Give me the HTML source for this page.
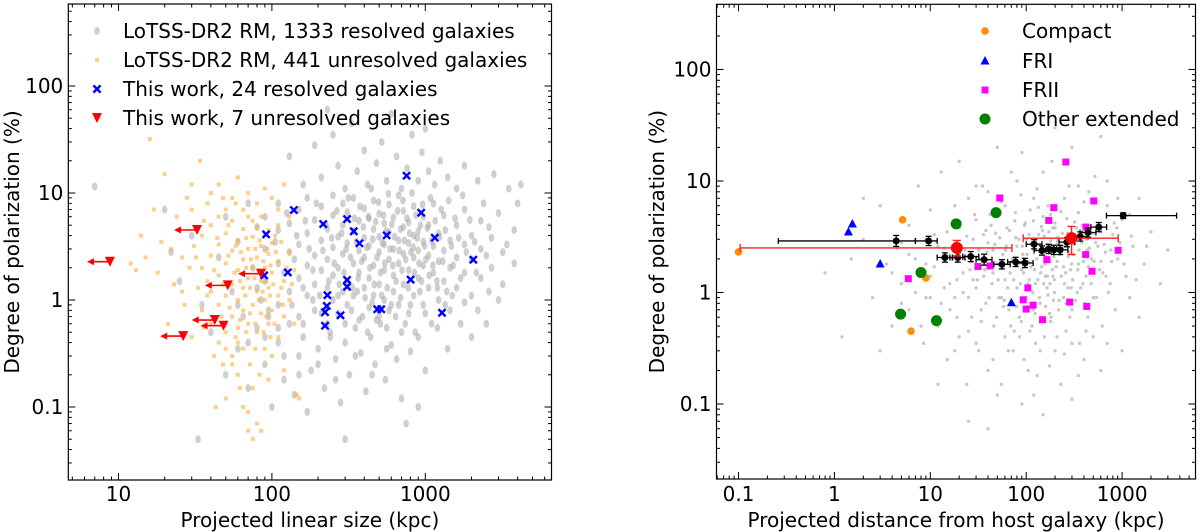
<!DOCTYPE html>
<html><head><meta charset="utf-8">
<style>
html,body{margin:0;padding:0;background:#fff;}
svg{display:block;font-family:"DejaVu Sans","Liberation Sans",sans-serif;}
</style></head>
<body>
<svg id="fig" width="1200" height="532" viewBox="0 0 1200 532" xmlns="http://www.w3.org/2000/svg">
  <g id="left"></g>
  <g id="right"></g>
</svg>
<script>
// ---------- LEFT PANEL DATA ----------
const lotssResolved = [[130,22],[160,12],[190,28],[210,14],[250,35],[270,18],[300,11],[330,45],[360,16],[400,25],[420,12],[480,19],[520,30],[560,13],[600,55],[650,22],[700,11],[760,17],[820,35],[900,13],[950,24],[1050,16],[1150,12],[1250,20],[1400,14],[1600,11],[1800,18],[2200,13],[2800,15],[3500,11],[4200,12],[7,11.5],[230,60],[1000,40],
[90,1.5],[90,3],[90,6],[110,0.9],[110,2.2],[110,4.5],[110,8],[130,1.2],[130,2.8],[130,5.2],[150,0.7],[150,1.6],[150,3.3],[150,7],[170,1.1],[170,2.1],[170,4.2],[170,9],[190,0.8],[190,1.4],[190,2.6],[190,5.6],[210,1.9],[210,3.6],[210,7.5],[230,0.6],[230,1.3],[230,2.4],[230,4.6],[250,1.0],[250,1.7],[250,3.1],[250,6.2],[250,9.5],[270,0.75],[270,2.0],[270,3.9],[290,1.2],[290,2.7],[290,5.0],[290,8],[310,0.9],[310,1.5],[310,3.4],[310,6.6],[340,1.1],[340,2.2],[340,4.4],[340,9],[370,0.65],[370,1.8],[370,2.9],[370,5.5],[400,1.3],[400,2.5],[400,3.8],[400,7.2],[430,0.85],[430,1.6],[430,3.2],[430,5.8],[460,1.1],[460,2.1],[460,4.6],[460,8.5],[500,0.7],[500,1.4],[500,2.8],[500,3.9],[500,6.4],[540,1.0],[540,1.9],[540,3.3],[540,5.2],[580,0.8],[580,2.4],[580,4.3],[580,7.8],[620,1.2],[620,1.7],[620,3.0],[620,5.9],[670,0.9],[670,2.2],[670,3.6],[670,9.5],[720,1.4],[720,2.7],[720,4.8],[720,6.8],[780,0.75],[780,1.9],[780,3.4],[780,5.3],[840,1.1],[840,2.5],[840,4.0],[840,7.5],[900,1.6],[900,2.9],[900,4.4],[970,0.9],[970,2.1],[970,3.5],[970,6],[1050,1.3],[1050,2.6],[1050,5],[1130,1.8],[1130,3.2],[1130,8],[1220,1.0],[1220,2.3],[1220,4.2],[1320,1.5],[1320,2.9],[1320,6.2],[1450,0.8],[1450,2],[1450,3.6],[1600,1.3],[1600,2.5],[1600,5],[1800,1.8],[1800,3.3],[1800,7],[2000,1.1],[2000,2.4],[2000,4],[2300,1.6],[2300,3],[2300,5.5],[2700,2],[2700,3.8],[3200,1.4],[3200,2.8],[3800,2.2],[3800,4.5],
[40,0.5],[50,0.2],[60,0.35],[70,0.15],[80,0.55],[90,0.25],[100,0.1],[110,0.4],[120,0.18],[130,0.6],[140,0.13],[150,0.3],[160,0.45],[170,0.09],[180,0.22],[200,0.35],[220,0.15],[240,0.5],[260,0.28],[280,0.11],[300,0.4],[320,0.2],[350,0.55],[380,0.32],[410,0.14],[440,0.45],[470,0.25],[510,0.6],[550,0.18],[600,0.38],[650,0.28],[700,0.5],[750,0.07],[800,0.33],[900,0.45],[1000,0.22],[1200,0.55],[1400,0.35],[1700,0.6],[2000,0.45],[2500,0.6],[33,0.05],[300,0.05],[700,0.12],[900,0.1],
[25,1.5],[30,4],[35,0.9],[45,2.5],[50,6],[55,1.2],[60,3.5],[65,0.7],[70,8],[75,2],[80,4.8],[85,1],[20,7],[22,2.8],
[95,0.8],[105,3.5],[120,1.8],[125,6.5],[140,2.4],[145,4],[160,1.3],[165,5.5],[175,3],[185,1.9],[195,8],[205,1.1],[215,2.9],[225,5],[235,1.5],[245,3.8],[255,2.2],[265,6.8],[275,1.4],[285,4.2],[295,1.8],[305,3],[315,9],[325,2.5],[335,1.3],[345,5.8],[355,3.5],[365,1.6],[375,7.5],[385,2.3],[395,4.8],[405,1.05],[415,3.1],[425,6],[435,2],[445,11],[455,3.7],[465,1.4],[475,5.4],[485,2.5],[495,8.2],[510,1.8],[525,3.4],[535,6.2],[545,2.2],[555,4.4],[565,1.3],[575,9.8],[590,3],[605,5.1],[615,2.1],[630,3.9],[645,1.5],[660,6.8],[675,2.9],[690,4.6],[705,1.9],[715,8.5],[730,3.6],[745,2.4],[760,5.8],[775,1.3],[790,4.2],[805,2.8],[820,10],[835,3.1],[850,1.8],[870,6.2],[885,3.8],[910,2.2],[930,5],[945,1.5],[960,7.8],[990,3.2],[1010,2.4],[1030,4.7],[1060,1.7],[1080,9],[1100,3.6],[1120,2.1],[1160,5.5],[1190,1.5],[1240,3.9],[1270,7],[1300,2.3],[1350,4.5],[1380,1.2],[1420,8.5],[1480,3.2],[1520,2.1],[1560,5.8],[1650,3.8],[1700,1.6],[1750,9.5],[1850,2.8],[1950,5.6],[2100,3.5],[2150,1.8],[2400,8],[2500,2.6],[2600,4.8],[3000,6.5],[3400,3.3],[4000,8],
[110,0.55],[135,0.9],[160,0.6],[185,1.0],[210,0.75],[240,0.45],[270,1.1],[300,0.6],[330,0.8],[360,1.2],[390,0.7],[420,0.5],[450,0.95],[480,0.65],[520,1.1],[560,0.55],[600,0.9],[640,0.7],[690,1.05],[740,0.6],[800,0.9],[860,0.5],[920,1.2],[1000,0.75],[1100,0.6],[1200,1.3],[1350,0.9],[1500,1.1],[1800,0.95],[2200,0.8],[2600,1.2],[3000,1],
[200,0.25],[260,0.18],[350,0.3],[450,0.2],[560,0.35],[150,0.2],[120,0.3],[90,0.45],[70,0.4],[80,1.3],[60,0.9],[95,0.7]];

const lotssUnresolved = [[35,0.8],[35,2],[35,4],[40,0.6],[40,1.2],[40,2.6],[40,5],[45,0.9],[45,1.7],[45,3.3],[50,0.5],[50,1.1],[50,2.2],[50,4.2],[50,7],[55,0.7],[55,1.4],[55,2.9],[55,5.5],[60,0.55],[60,1],[60,1.9],[60,3.6],[65,0.8],[65,1.3],[65,2.4],[65,4.6],[70,0.6],[70,1.6],[70,3],[70,6],[75,0.9],[75,2],[75,3.9],[80,0.5],[80,1.2],[80,2.5],[80,4.8],[85,0.75],[85,1.5],[85,3.2],[90,1],[90,2],[90,4],[95,0.6],[95,1.3],[95,2.7],[100,0.8],[100,1.8],[100,3.4],[110,1.1],[110,2.3],[110,5],[120,0.7],[120,1.5],[130,2.8],[130,1],[140,0.6],[140,1.9],[150,0.12],[145,0.13],
[12,2.2],[14,4],[16,32],[17,7],[18,1.8],[20,15],[22,3],[24,6],[26,1.2],[28,9],[30,0.45],[30,12],[32,2.5],[34,20],[36,5.5],[38,1.5],[27,0.9],[25,4.5],[21,0.6],
[43,0.1],[50,0.12],[55,0.3],[60,0.2],[65,0.1],[70,0.09],[70,0.06],[75,0.05],[80,0.07],[85,0.06],[55,0.25],[60,0.4],[45,0.4],[48,0.25],[90,0.35],[100,0.3],[110,0.45],[75,0.15],[65,0.35],[120,0.22],
[40,10],[45,12],[55,9],[60,14],[70,10],[80,8],[90,11],[100,9],[110,7],[120,12],[130,6],
[38,1.1],[42,1.9],[44,3.8],[47,0.7],[48,1.4],[52,2.6],[53,0.85],[57,1.8],[58,3.2],[62,0.65],[62,1.5],[63,2.8],[67,1.1],[68,2],[68,3.8],[72,0.75],[72,1.3],[73,2.4],[77,1.6],[78,0.6],[78,3],[82,1],[82,1.9],[83,3.6],[87,1.2],[88,2.3],[92,0.7],[92,1.5],[93,3],[97,1.1],[98,2.1],[102,1.4],[104,0.6],[106,2.8],[115,1.3],[118,0.9],[125,2],[135,1.4],[45,6],[52,5],[65,7],[75,5.5],[85,6],[95,4.5],[105,4],[115,3.5],[58,0.45],[68,0.5],[78,0.35],[88,0.5],[98,0.45],[50,0.35],[72,0.25],[62,0.15],[83,0.2],[95,0.18],[42,0.3],[36,0.55],[33,1.3],[31,3.2],[29,2],[26,2.5],[23,1.4],[19,3.5],[15,2.5],[13,1.9],[48,9],[58,8],[38,8],[30,7]];

const resolvedSize = [91.7,139,216,309,342,372,560,755,940,1153,2056,127,89,309,309,802,230,228,222,280,486,516,1285,222];
const resolvedPol  = [4.11,6.93,5.13,5.71,4.39,3.39,4.02,14.5,6.54,3.82,2.38,1.81,1.70,1.54,1.33,1.55,1.11,0.88,0.77,0.72,0.82,0.82,0.76,0.575];
const unresolvedSize = [8.8,32.5,85,51.6,42.4,48.4,26.4];
const unresolvedPol  = [2.28,4.51,1.76,1.37,0.65,0.575,0.46];

const leftXTicks = [10,100,1000];
const leftXTickLabels = ["10","100","1000"];
const leftYTicks = [0.1,1,10,100];
const leftYTickLabels = ["0.1","1","10","100"];

// ---------- RIGHT PANEL DATA ----------
const backgroundDist = [[0.8,1.5],[1.2,0.4],[2,3],[2.5,0.9],[3,6],[3.5,1.8],[4,0.5],[4.5,2.5],[5,1.2],[6,4],[6,0.7],[7,2],[7.5,9],[8,1.4],[8.5,0.35],[9,3],[10,0.9],[10,5.5],[11,1.7],[12,0.5],[12,2.6],[13,12],[14,1.1],[15,3.5],[15,0.25],[16,0.7],[17,2],[18,6],[19,1.3],[20,0.4],[20,3.8],[22,1],[23,2.4],[24,0.15],[25,7],[26,1.6],[27,0.6],[28,3],[30,1.1],[30,4.5],[32,0.3],[33,2],[35,9],[36,1.4],[38,0.8],[40,2.8],[40,0.2],[42,5],[44,1.2],[46,0.5],[48,3.4],[50,1.8],[50,0.12],[52,0.9],[55,6.5],[57,2.2],[60,0.4],[60,1.3],[63,3.8],[66,0.7],[70,1.9],[70,12],[73,0.3],[76,4.4],[80,1.1],[80,2.6],[85,0.6],[88,7.5],[90,1.6],[95,0.25],[100,3],[100,0.9],[105,1.9],[110,5.5],[115,0.5],[120,2.4],[125,1.2],[130,0.18],[130,8.5],[135,3.3],[140,0.8],[145,1.7],[150,4.8],[155,0.4],[160,2.1],[165,1.1],[170,6],[175,0.65],[180,2.9],[185,15],[190,1.4],[200,0.3],[200,3.8],[210,1.9],[220,0.85],[230,5.3],[240,2.5],[250,1.2],[260,0.45],[270,3.4],[280,9],[290,1.6],[300,0.7],[310,2.2],[320,4.3],[340,1],[360,0.35],[380,2.8],[400,6.5],[420,1.4],[440,0.6],[460,3.6],[480,2],[500,0.9],[520,11],[550,4],[580,1.6],[620,0.5],[650,2.7],[700,6],[750,1.2],[800,3.3],[850,0.7],[900,2],[1000,4.5],[1100,1.4],[1200,0.9],[1300,2.6],[1500,7],[1700,1.8],[2000,3.5],[2500,1.2],[3000,2.4],[40,0.06],[150,0.08],[90,0.1],[25,0.07],[300,0.11],[600,0.2],[12,0.15],[1000,0.3],[8,0.5],[1500,0.6],[3,0.3],[1.5,2],[2,7],[600,25],[200,30],[50,20],[20,15],
[18,0.9],[28,1.3],[34,0.55],[45,2.4],[58,0.75],[68,1.5],[78,3.1],[92,2.2],[108,1.3],[118,0.7],[138,2.7],[158,1.4],[178,1.9],[198,1],[215,3.1],[245,1.7],[275,2.1],[295,1.1],[330,3],[350,1.8],[390,1.2],[430,2.4],[470,1.5],[530,2.8],[600,1.9],[680,1.4],[760,2.4],[880,3.8],[38,3.6],[62,2.6],[98,4.2],[148,3.6],[208,2.7],[350,5.2],[600,3.5],[22,2],[14,2.5],[9,1.8],[5,2.8],[75,0.45],[125,0.35],[180,0.55],[260,0.8],[420,0.45],[55,0.9],[35,1.9],
[10,1.4],[11,3.3],[13,0.8],[14,2.1],[16,1.2],[17,4.2],[19,0.6],[21,2.5],[22,1.5],[24,3.2],[25,0.9],[27,1.9],[29,5],[31,1.3],[32,2.4],[34,0.7],[36,3.3],[37,1.6],[39,2.3],[41,0.9],[43,4],[45,1.5],[47,2.7],[49,0.6],[51,1.3],[53,3.1],[56,1.7],[59,0.85],[61,2.4],[64,1.1],[67,3.6],[69,0.5],[72,2],[74,1.3],[77,5.2],[79,0.75],[82,1.8],[84,3],[87,1.2],[89,0.55],[91,2.6],[94,1.5],[96,4],[99,0.7],[102,2.2],[104,1.2],[107,3.3],[109,0.45],[112,1.7],[114,2.8],[117,1],[119,4.4],[122,1.6],[124,0.65],[127,3],[129,2],[132,1.3],[134,5.8],[137,0.9],[139,2.3],[142,1.5],[144,3.9],[147,0.55],[149,2.5],[152,1.2],[154,3.2],[157,1.8],[159,0.75],[162,2.7],[164,4.5],[167,1.4],[169,0.95],[172,3.5],[174,2],[177,1.2],[179,5],[182,0.6],[184,2.5],[187,1.6],[189,3.8],[192,0.85],[194,2.1],[197,1.3],[199,4.2],[205,1.7],[212,2.9],[218,0.7],[225,2.2],[232,1.4],[238,3.4],[245,0.9],[252,2.6],[258,1.5],[265,4.6],[272,1.1],[278,2.3],[285,0.6],[292,3.1],[298,1.8],[305,1.3],[315,2.7],[325,0.85],[335,3.8],[345,1.6],[355,2.4],[370,1.1],[385,4],[395,1.9],[410,0.8],[425,3],[445,1.7],[455,2.5],[475,1.2],[490,3.4],[510,1.9],[540,0.9],[560,2.6],[590,3.6],[630,1.5],[670,2.3],[720,1],[780,1.9],[830,4.2],[950,2.8],[1050,1.8],[1250,3.2],[1400,1.3],[1800,2.6],
[30,0.35],[45,0.25],[65,0.3],[85,0.4],[105,0.2],[140,0.3],[175,0.22],[210,0.4],[250,0.28],[300,0.35],[400,0.25],[500,0.4],[700,0.35],[25,0.45],[55,0.15],[120,0.12],[230,0.15],[350,0.18],[18,0.3],[7,1],[5,0.8],[4,1.5],[9,0.9],[6,2.2],
[40,8],[80,10],[150,12],[250,7],[350,9],[450,8],[700,10],[900,7],[30,9],[60,6],[120,7],[1200,5],[300,20],[90,18]];

const binDist = [4.41,9.6,14.2,19.3,26.4,36.4,55.8,77.5,97,121,146,172,194,226,266,366,441,571,1026];
const binPol  = [2.90,2.90,2.06,2.06,2.10,1.97,1.79,1.88,1.84,2.71,2.38,2.46,2.41,2.41,2.83,3.18,3.45,3.86,4.89];
const binXLo  = [0.26,7.0,11.8,16.0,21.8,30.0,46.0,64.0,80.0,100,121,142,160,187,220,302,364,472,687];
const binXHi  = [7.0,11.8,17.0,23.0,32.0,44.0,68.0,94.0,118,146,176,208,234,272,321,443,533,690,3700];
const binYErr = [1.12,1.1,1.1,1.1,1.11,1.12,1.1,1.1,1.1,1.1,1.1,1.1,1.1,1.1,1.1,1.1,1.1,1.1,1.06];

const medDist = [18.9,297];
const medPol  = [2.51,3.07];
const medXLo  = [0.104,93];
const medXHi  = [71,910];
const medYLo  = [2.13,2.19];
const medYHi  = [2.93,3.91];

const compactDist = [5.14,9.0,6.3,0.10];
const compactPol  = [4.49,1.35,0.45,2.31];
const friDist = [3.0,70,1.54,1.4];
const friPol  = [1.80,0.81,4.11,3.49];
const friiDist = [259,53,506,194,172,420,910,417,164,31.4,42,5.9,486,104,93,118,100,284,428,148];
const friiPol  = [14.8,7.04,6.62,5.76,4.43,3.86,2.39,2.19,1.97,1.71,1.73,1.33,1.55,1.10,0.86,0.77,0.71,0.82,0.75,0.57];
const otherDist = [48.5,18.6,8.0,4.9,11.6];
const otherPol  = [5.2,4.13,1.51,0.64,0.56];

const rightXTicks = [0.1,1,10,100,1000];
const rightXTickLabels = ["0.1","1","10","100","1000"];
const rightYTicks = [0.1,1,10,100];
const rightYTickLabels = ["0.1","1","10","100"];

// ---------- helpers ----------
const NS = "http://www.w3.org/2000/svg";
const lg = Math.log10;
const FS = 20;
function mk(tag, attrs, parent){ const e=document.createElementNS(NS,tag); for(const k in attrs) e.setAttribute(k,attrs[k]); parent.appendChild(e); return e; }

const L = {x0:68.3, x1:551.5, y0:4, y1:480};
const lx = v => 118.5 + 153.4*(lg(v)-1);
const ly = v => 300 - 107*lg(v);
const R = {x0:716.5, x1:1195.5, y0:4.3, y1:479};
const rx = v => 834.4 + 95.9*lg(v);
const ry = v => 292.5 - 111.5*lg(v);

function minorList(a,b){ const out=[]; for(let e=-3;e<5;e++){ for(let m=2;m<10;m++){ const v=m*Math.pow(10,e); if(v>=a&&v<=b) out.push(v);} } return out; }

function drawAxes(g, A, fx, fy, xt, xtl, yt, ytl, xr, yr, xlabel, ylabel, ylabX, name){
  const ax = mk('g',{},g);
  
  
  const frame = mk('rect',{x:A.x0,y:A.y0,width:A.x1-A.x0,height:A.y1-A.y0,fill:'none',stroke:'#000','stroke-width':1.2},ax);
  
  
  const tk = mk('g',{stroke:'#000','stroke-width':1},ax);
  minorList(xr[0],xr[1]).forEach(v=>{ const X=fx(v); mk('line',{x1:X,x2:X,y1:A.y1,y2:A.y1-3.5},tk); mk('line',{x1:X,x2:X,y1:A.y0,y2:A.y0+3.5},tk); });
  minorList(yr[0],yr[1]).forEach(v=>{ const Y=fy(v); mk('line',{x1:A.x0,x2:A.x0+3.5,y1:Y,y2:Y},tk); mk('line',{x1:A.x1,x2:A.x1-3.5,y1:Y,y2:Y},tk); });
  xt.forEach((v,i)=>{ const X=fx(v); mk('line',{x1:X,x2:X,y1:A.y1,y2:A.y1-7},tk); mk('line',{x1:X,x2:X,y1:A.y0,y2:A.y0+7},tk);
    const t=mk('text',{x:X,y:501,'text-anchor':'middle','font-size':FS,fill:'#000'},ax); t.textContent=xtl[i];
    
     });
  yt.forEach((v,i)=>{ const Y=fy(v); mk('line',{x1:A.x0,x2:A.x0+7,y1:Y,y2:Y},tk); mk('line',{x1:A.x1,x2:A.x1-7,y1:Y,y2:Y},tk);
    const t=mk('text',{x:A.x0-5,y:Y+7,'text-anchor':'end','font-size':FS,fill:'#000'},ax); t.textContent=ytl[i];
    
     });
  const xl=mk('text',{x:(A.x0+A.x1)/2,y:527,'text-anchor':'middle','font-size':FS,fill:'#000'},ax); xl.textContent=xlabel;
  
  
  const cy=(A.y0+A.y1)/2;
  const yl=mk('text',{x:ylabX,y:cy,'text-anchor':'middle','font-size':FS,fill:'#000',transform:`rotate(-90 ${ylabX} ${cy})`},ax); yl.textContent=ylabel;
  
  
}

// ---------- LEFT PANEL ----------
const gL = document.getElementById('left');
const cpL = mk('clipPath',{id:'clipL'},gL);
mk('rect',{x:L.x0,y:L.y0,width:L.x1-L.x0,height:L.y1-L.y0},cpL);
const pL = mk('g',{'clip-path':'url(#clipL)'},gL);

const gGray = mk('g',{fill:'#a8a8a8','fill-opacity':0.55},pL);


lotssResolved.forEach(p=>{ mk('ellipse',{cx:lx(p[0]),cy:ly(p[1]),rx:2.8,ry:4},gGray); });

const gOr = mk('g',{fill:'#fbb03b','fill-opacity':0.6},pL);


lotssUnresolved.forEach(p=>{ mk('rect',{x:lx(p[0])-2,y:ly(p[1])-2,width:4,height:4},gOr); });

const gX = mk('g',{stroke:'#0000ff','stroke-width':2.4},pL);


resolvedSize.forEach((s,i)=>{ const X=lx(s),Y=ly(resolvedPol[i]),d=3.6;
  mk('line',{x1:X-d,y1:Y-d,x2:X+d,y2:Y+d},gX); mk('line',{x1:X-d,y1:Y+d,x2:X+d,y2:Y-d},gX); });

const gT = mk('g',{},pL);


unresolvedSize.forEach((s,i)=>{ const X=lx(s),Y=ly(unresolvedPol[i]);
  mk('line',{x1:X,y1:Y,x2:X-20,y2:Y,stroke:'#ff0000','stroke-width':1.6},gT);
  mk('polygon',{points:`${X-23},${Y} ${X-16},${Y-3.5} ${X-16},${Y+3.5}`,fill:'#ff0000'},gT);
  mk('polygon',{points:`${X-5},${Y-5} ${X+5},${Y-5} ${X},${Y+5}`,fill:'#ff0000'},gT); });

drawAxes(gL,L,lx,ly,leftXTicks,leftXTickLabels,leftYTicks,leftYTickLabels,[4.8,6400],[0.021,580],
  'Projected linear size (kpc)','Degree of polarization (%)',19,'left');

const legL = mk('g',{},gL);


const legLItems = ["LoTSS-DR2 RM, 1333 resolved galaxies","LoTSS-DR2 RM, 441 unresolved galaxies","This work, 24 resolved galaxies","This work, 7 unresolved galaxies"];
const legLY = [31,60,89,118];
mk('ellipse',{cx:97,cy:legLY[0],rx:2.8,ry:4,fill:'#a8a8a8','fill-opacity':0.55},legL);
mk('rect',{x:95,y:legLY[1]-2,width:4,height:4,fill:'#fbb03b','fill-opacity':0.6},legL);
mk('line',{x1:93.4,y1:legLY[2]-3.6,x2:100.6,y2:legLY[2]+3.6,stroke:'#0000ff','stroke-width':2.4},legL);
mk('line',{x1:93.4,y1:legLY[2]+3.6,x2:100.6,y2:legLY[2]-3.6,stroke:'#0000ff','stroke-width':2.4},legL);
mk('polygon',{points:`92,${legLY[3]-5} 102,${legLY[3]-5} 97,${legLY[3]+5}`,fill:'#ff0000'},legL);
legLItems.forEach((s,i)=>{ const t=mk('text',{x:123,y:legLY[i]+7,'font-size':FS,fill:'#000'},legL); t.textContent=s;
  
   });

// ---------- RIGHT PANEL ----------
const gR = document.getElementById('right');
const cpR = mk('clipPath',{id:'clipR'},gR);
mk('rect',{x:R.x0,y:R.y0,width:R.x1-R.x0,height:R.y1-R.y0},cpR);
const pR = mk('g',{'clip-path':'url(#clipR)'},gR);

const gBg = mk('g',{fill:'#b0b0b0','fill-opacity':0.7},pR);


backgroundDist.forEach(p=>{ mk('circle',{cx:rx(p[0]),cy:ry(p[1]),r:1.7},gBg); });

const gCo = mk('g',{fill:'#ff8c0a'},pR);


compactDist.forEach((d,i)=>{ mk('circle',{cx:rx(d),cy:ry(compactPol[i]),r:3.8},gCo); });

const gF1 = mk('g',{fill:'#0000ff'},pR);


friDist.forEach((d,i)=>{ const X=rx(d),Y=ry(friPol[i]); mk('polygon',{points:`${X},${Y-5} ${X-4.5},${Y+3.5} ${X+4.5},${Y+3.5}`},gF1); });

const gF2 = mk('g',{fill:'#ff00ff'},pR);


friiDist.forEach((d,i)=>{ mk('rect',{x:rx(d)-3.5,y:ry(friiPol[i])-3.5,width:7,height:7},gF2); });

const gOt = mk('g',{fill:'#008000'},pR);


otherDist.forEach((d,i)=>{ mk('circle',{cx:rx(d),cy:ry(otherPol[i]),r:5.5},gOt); });

const gBin = mk('g',{},pR);


binDist.forEach((d,i)=>{ const X=rx(d),Y=ry(binPol[i]);
  const xl=rx(binXLo[i]), xh=rx(binXHi[i]), yl=ry(binPol[i]/binYErr[i]), yh=ry(binPol[i]*binYErr[i]);
  mk('line',{x1:xl,x2:xh,y1:Y,y2:Y,stroke:'#000','stroke-width':1.3},gBin);
  mk('line',{x1:xl,x2:xl,y1:Y-3,y2:Y+3,stroke:'#000','stroke-width':1.3},gBin);
  mk('line',{x1:xh,x2:xh,y1:Y-3,y2:Y+3,stroke:'#000','stroke-width':1.3},gBin);
  mk('line',{x1:X,x2:X,y1:yl,y2:yh,stroke:'#000','stroke-width':1.3},gBin);
  mk('line',{x1:X-3,x2:X+3,y1:yl,y2:yl,stroke:'#000','stroke-width':1.3},gBin);
  mk('line',{x1:X-3,x2:X+3,y1:yh,y2:yh,stroke:'#000','stroke-width':1.3},gBin);
  mk('circle',{cx:X,cy:Y,r:3.5,fill:'#000'},gBin); });

const gMed = mk('g',{},pR);


medDist.forEach((d,i)=>{ const X=rx(d),Y=ry(medPol[i]);
  const xl=rx(medXLo[i]), xh=rx(medXHi[i]), yl=ry(medYLo[i]), yh=ry(medYHi[i]);
  const st={stroke:'#ff2020','stroke-width':1.4};
  mk('line',Object.assign({x1:xl,x2:xh,y1:Y,y2:Y},st),gMed);
  mk('line',Object.assign({x1:xl,x2:xl,y1:Y-4,y2:Y+4},st),gMed);
  mk('line',Object.assign({x1:xh,x2:xh,y1:Y-4,y2:Y+4},st),gMed);
  mk('line',Object.assign({x1:X,x2:X,y1:yl,y2:yh},st),gMed);
  mk('line',Object.assign({x1:X-4,x2:X+4,y1:yl,y2:yl},st),gMed);
  mk('line',Object.assign({x1:X-4,x2:X+4,y1:yh,y2:yh},st),gMed);
  mk('circle',{cx:X,cy:Y,r:6,fill:'#ff0000'},gMed); });

drawAxes(gR,R,rx,ry,rightXTicks,rightXTickLabels,rightYTicks,rightYTickLabels,[0.059,5800],[0.021,380],
  'Projected distance from host galaxy (kpc)','Degree of polarization (%)',664,'right');

const legR = mk('g',{},gR);


const legRItems = ["Compact","FRI","FRII","Other extended"];
const legRY = [31,61,90,119];
mk('circle',{cx:985,cy:legRY[0],r:3.8,fill:'#ff8c0a'},legR);
mk('polygon',{points:`985,${legRY[1]-5} 980.5,${legRY[1]+3.5} 989.5,${legRY[1]+3.5}`,fill:'#0000ff'},legR);
mk('rect',{x:981.5,y:legRY[2]-3.5,width:7,height:7,fill:'#ff00ff'},legR);
mk('circle',{cx:985,cy:legRY[3],r:5.5,fill:'#008000'},legR);
legRItems.forEach((s,i)=>{ const t=mk('text',{x:1022,y:legRY[i]+7,'font-size':FS,fill:'#000'},legR); t.textContent=s;
  
   });
</script>
</body></html>
